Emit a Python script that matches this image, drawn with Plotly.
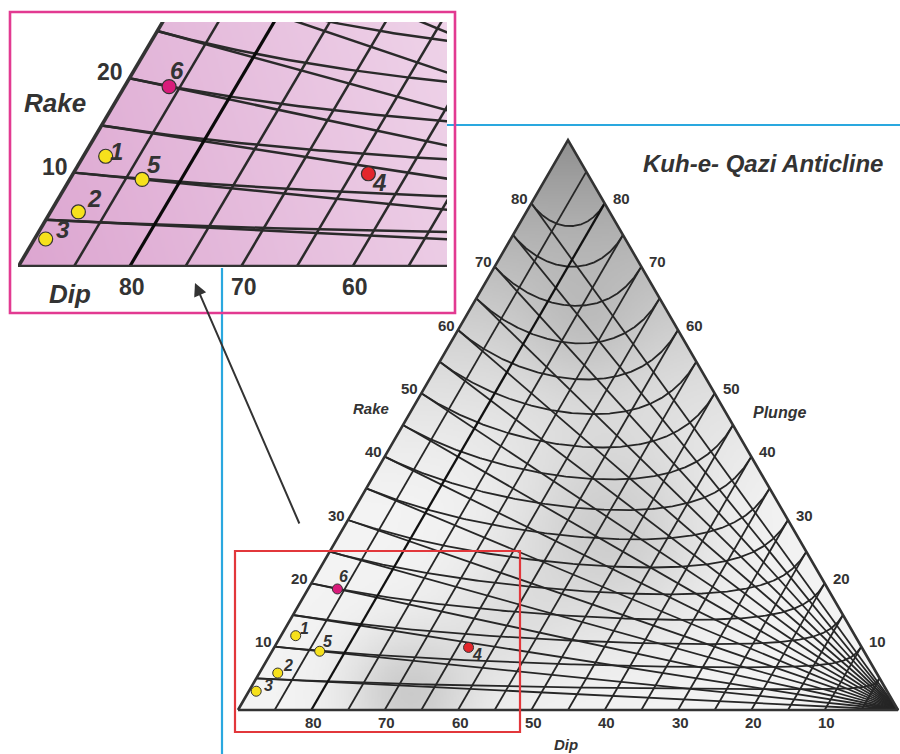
import numpy as np
import plotly.graph_objects as go

# ---------------- data ----------------
grid_step = 5                                   # spacing of dip / rake / plunge curves (deg)
dip_levels = list(range(5, 90, 5))              # constant-dip lines
rake_levels = list(range(5, 85, 5))             # constant-rake lines
plunge_levels = list(range(5, 85, 5))           # constant-plunge curves
dip_ticks = [80, 70, 60, 50, 40, 30, 20, 10]
rake_ticks = [10, 20, 30, 40, 50, 60, 70, 80]
plunge_ticks = [10, 20, 30, 40, 50, 60, 70, 80]

site_labels = ["1", "2", "3", "4", "5", "6"]
site_dip = [88.0, 87.5, 89.0, 63.5, 83.5, 86.0]
site_rake = [12.0, 6.0, 3.0, 14.0, 10.0, 20.0]
site_colors = ["#f6e11c", "#f6e11c", "#f6e11c", "#e3262b", "#f6e11c", "#d81b7a"]

title_text = "Kuh-e- Qazi Anticline"

# ---------------- geometry ----------------
H = 570 / 660           # triangle height for unit base
S = 660                 # pixels per unit in the main panel
OX, OY = 238, 710       # pixel position of the Dip=90 / Rake=0 corner


def to_xy(dip, rake):
    """Dip/rake -> triangle coordinates (base 0..1, apex at 0.5, H)."""
    dip = np.asarray(dip, float)
    rake = np.asarray(rake, float)
    a = (90 - dip) / 90
    b = rake * dip / 8100
    return a + b / 2, b * H


def px(x, y):
    """Page pixel -> main-axis coordinates."""
    return (x - OX) / S, (OY - y) / S


def paper(x, y):
    return x / 900, 1 - y / 754


def grid_paths(dips, rakes, plunges):
    xs, ys = [], []

    def add(d, r):
        x, y = to_xy(d, r)
        xs.extend(list(x) + [None])
        ys.extend(list(y) + [None])

    for d in dips:
        add([d, d], [0, 90])
    for r in rakes:
        add([90, 0], [r, r])
    for p in plunges:
        s = np.linspace(0, 1, 260)
        d = p + (90 - p) * s ** 2
        ratio = np.sin(np.radians(p)) / np.sin(np.radians(d))
        r = np.degrees(np.arcsin(np.clip(ratio, -1, 1)))
        add(d, r)
    return xs, ys


thin_dips = [d for d in dip_levels if d != 80]

fig = go.Figure()

# ---------------- main panel shading ----------------
nx, ny = 460, 400
gx = np.linspace(0, 1, nx)
gy = np.linspace(0, H, ny)
GX, GY = np.meshgrid(gx, gy)
inside = (GY <= 2 * H * GX + 1e-9) & (GY <= 2 * H * (1 - GX) + 1e-9)
PX = OX + S * GX
PY = OY - S * GY
t = np.clip((GY - 0.30) / (H - 0.30), 0, 1)
shade = 243 - 100 * t ** 1.5


def blob(cx, cy, s, d):
    return d * np.exp(-((PX - cx) ** 2 + (PY - cy) ** 2) / (2 * s * s))


shade = shade - blob(610, 530, 70, 38) - blob(585, 330, 45, 18) - blob(410, 695, 45, 40) - blob(505, 625, 45, 15)
shade = np.where(inside, shade, np.nan)
fig.add_trace(go.Heatmap(x=gx, y=gy, z=shade, zmin=0, zmax=255,
                         colorscale=[[0, "rgb(0,0,0)"], [1, "rgb(255,255,255)"]],
                         showscale=False, hoverinfo="skip", xaxis="x", yaxis="y"))

gxs, gys = grid_paths(thin_dips, rake_levels, plunge_levels)
fig.add_trace(go.Scatter(x=gxs, y=gys, mode="lines", line=dict(color="#262626", width=1.8),
                         hoverinfo="skip", xaxis="x", yaxis="y"))
hx, hy = grid_paths([80], [], [])
fig.add_trace(go.Scatter(x=hx, y=hy, mode="lines", line=dict(color="#111111", width=2.3),
                         hoverinfo="skip", xaxis="x", yaxis="y"))

tri_x = [0, 0.5, 1, 0]
tri_y = [0, H, 0, 0]
fig.add_trace(go.Scatter(x=tri_x, y=tri_y, mode="lines", line=dict(color="#333333", width=2.6),
                         hoverinfo="skip", xaxis="x", yaxis="y"))

sx, sy = to_xy(site_dip, site_rake)
fig.add_trace(go.Scatter(x=sx, y=sy, mode="markers",
                         marker=dict(size=10, color=site_colors, line=dict(color="#333333", width=1)),
                         hoverinfo="skip", xaxis="x", yaxis="y"))

# ---------------- inset panel ----------------
ix_max, iy_max = 0.4277, 0.2491
inx, iny = 320, 190
igx = np.linspace(0, ix_max, inx)
igy = np.linspace(0, iy_max, iny)
IGX, IGY = np.meshgrid(igx, igy)
iin = (IGY <= 2 * H * IGX + 1e-9)
pink = IGX / ix_max * 0.85 + IGY / iy_max * 0.15
pink = np.where(iin, pink, np.nan)
fig.add_trace(go.Heatmap(x=igx, y=igy, z=pink, zmin=0, zmax=1,
                         colorscale=[[0, "rgb(220,165,208)"], [1, "rgb(238,210,232)"]],
                         showscale=False, hoverinfo="skip", xaxis="x2", yaxis="y2"))
fig.add_trace(go.Scatter(x=gxs, y=gys, mode="lines", line=dict(color="#2a2a2a", width=2.5),
                         hoverinfo="skip", xaxis="x2", yaxis="y2"))
fig.add_trace(go.Scatter(x=hx, y=hy, mode="lines", line=dict(color="#0a0a0a", width=3.2),
                         hoverinfo="skip", xaxis="x2", yaxis="y2"))
fig.add_trace(go.Scatter(x=[0.5, 0], y=[H, 0], mode="lines", line=dict(color="#333333", width=3.6),
                         hoverinfo="skip", xaxis="x2", yaxis="y2"))
fig.add_trace(go.Scatter(x=[0, 1], y=[0, 0], mode="lines", line=dict(color="#333333", width=4.6),
                         hoverinfo="skip", xaxis="x2", yaxis="y2"))
fig.add_trace(go.Scatter(x=sx, y=sy, mode="markers",
                         marker=dict(size=14, color=site_colors, line=dict(color="#333333", width=1.2)),
                         hoverinfo="skip", xaxis="x2", yaxis="y2"))

# ---------------- text ----------------
FONT = "Liberation Sans, Arial, sans-serif"
TXT = "#333333"
ann = []


def label(x, y, text, size, ref=("x", "y"), xanchor="center", yanchor="middle",
          xshift=0, yshift=0, italic=False, bold=True):
    ann.append(dict(x=x, y=y, xref=ref[0], yref=ref[1], text=text, showarrow=False,
                    xanchor=xanchor, yanchor=yanchor, xshift=xshift, yshift=yshift,
                    font=dict(family=FONT, size=size, color=TXT,
                              weight="bold" if bold else "normal",
                              style="italic" if italic else "normal")))


# main tick labels
for r in rake_ticks:
    x, y = to_xy(90, r)
    label(float(x), float(y), str(r), 15, xanchor="right", xshift=-1, yshift=5)
for p in plunge_ticks:
    x, y = to_xy(p, 90)
    label(float(x), float(y), str(p), 15, xanchor="left", xshift=6, yshift=5)
for d in dip_ticks:
    x, y = to_xy(d, 0)
    label(float(x), float(y), str(d), 15, xshift=2, yshift=-12)

label(*px(371, 408), "Rake", 15, italic=True)
label(*px(779, 412), "Plunge", 16, italic=True)
label(*px(566, 744), "Dip", 15, italic=True)
label(*px(763, 163), title_text, 24, italic=True)

# main site labels
main_off = [(9, -7), (10, -8), (12, -6), (8, 7), (8, -10), (6, -12)]
for i, lab in enumerate(site_labels):
    label(float(sx[i]), float(sy[i]), lab, 16, xshift=main_off[i][0], yshift=-main_off[i][1], italic=True)

# inset tick labels
for r in rake_ticks:
    x, y = to_xy(90, r)
    if y <= iy_max:
        label(float(x), float(y), str(r), 23, ref=("x2", "y2"), xanchor="right", xshift=-4, yshift=6)
for d in dip_ticks:
    x, y = to_xy(d, 0)
    if x <= ix_max:
        label(float(x), float(y), str(d), 23, ref=("x2", "y2"), xshift=3, yshift=-20)
for name, (cx, cy) in (("Rake", (55, 103)), ("Dip", (70, 294))):
    pxy = paper(cx, cy)
    ann.append(dict(x=pxy[0], y=pxy[1], xref="paper", yref="paper", text=name, showarrow=False,
                    xanchor="center", yanchor="middle",
                    font=dict(family=FONT, size=26, color=TXT, weight="bold", style="italic")))

inset_off = [(11, -5), (16, -13), (17, -9), (11, 9), (12, -15), (8, -16)]
for i, lab in enumerate(site_labels):
    label(float(sx[i]), float(sy[i]), lab, 24, ref=("x2", "y2"),
          xshift=inset_off[i][0], yshift=-inset_off[i][1], italic=True)

# arrow from the zoom box to the inset
hx0, hy0 = px(195, 283)
tx0, ty0 = px(300, 525)
ann.append(dict(x=hx0, y=hy0, ax=tx0, ay=ty0, xref="x", yref="y", axref="x", ayref="y",
                text="", showarrow=True, arrowhead=2, arrowsize=1.3, arrowwidth=2,
                arrowcolor="#333333", standoff=0))

# ---------------- frames ----------------
shapes = []


def line_shape(x0, y0, x1, y1, color, width):
    p0, p1 = paper(x0, y0), paper(x1, y1)
    shapes.append(dict(type="line", xref="paper", yref="paper", x0=p0[0], y0=p0[1],
                       x1=p1[0], y1=p1[1], line=dict(color=color, width=width)))


def rect_shape(x0, y0, x1, y1, color, width):
    p0, p1 = paper(x0, y0), paper(x1, y1)
    shapes.append(dict(type="rect", xref="paper", yref="paper", x0=p0[0], y0=p0[1],
                       x1=p1[0], y1=p1[1], line=dict(color=color, width=width),
                       fillcolor="rgba(0,0,0,0)"))


line_shape(447, 125, 900, 125, "#2aa8df", 2.2)
line_shape(222, 268, 222, 754, "#2aa8df", 2.2)
rect_shape(235, 551, 520, 732, "#e2373b", 2.2)
rect_shape(10, 12, 455, 313, "#e23a91", 2.6)

fig.update_layout(
    width=900, height=754, margin=dict(l=0, r=0, t=0, b=0),
    paper_bgcolor="white", plot_bgcolor="rgba(0,0,0,0)", showlegend=False,
    xaxis=dict(domain=[0, 1], range=[-OX / S, (900 - OX) / S], visible=False, fixedrange=True),
    yaxis=dict(domain=[0, 1], range=[(OY - 754) / S, OY / S], visible=False, fixedrange=True),
    xaxis2=dict(domain=[18 / 900, 447 / 900], range=[0, ix_max], visible=False, anchor="y2", fixedrange=True),
    yaxis2=dict(domain=[1 - 267 / 754, 1 - 22 / 754], range=[0, iy_max], visible=False, anchor="x2", fixedrange=True),
    annotations=ann, shapes=shapes,
)

fig.write_html("out.html")
